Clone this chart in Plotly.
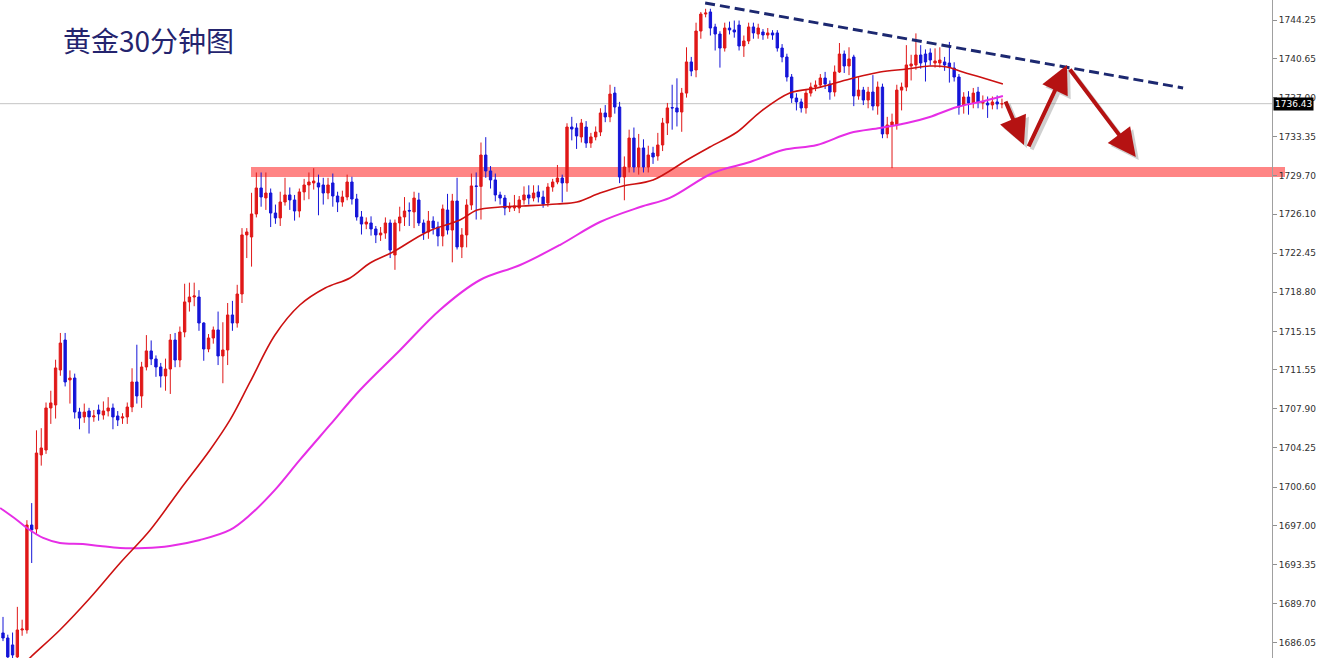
import plotly.graph_objects as go

# ---------------- data ----------------
opens = [
1686.96, 1686.49, 1685.84, 1684.72, 1687.24, 1687.24, 1697.05, 1696.68, 1703.60, 1704.06,
1707.99, 1708.27, 1711.54, 1714.34, 1710.61, 1710.79, 1707.61, 1707.15, 1707.71, 1707.15,
1707.80, 1707.33, 1707.71, 1707.99, 1707.24, 1707.05, 1707.15, 1708.08, 1710.42, 1709.11,
1711.82, 1713.32, 1712.57, 1711.82, 1710.98, 1711.63, 1714.34, 1712.47, 1715.09, 1717.90,
1718.36, 1718.36, 1715.93, 1713.50, 1714.53, 1715.28, 1712.85, 1713.41, 1716.68, 1715.93,
1718.64, 1724.16, 1723.97, 1726.12, 1728.55, 1727.62, 1728.08, 1726.21, 1725.75, 1727.24,
1727.90, 1727.43, 1726.40, 1728.18, 1728.83, 1729.02, 1729.02, 1728.83, 1728.08, 1729.02,
1727.80, 1727.24, 1727.71, 1729.11, 1727.52, 1725.84, 1725.18, 1725.28, 1724.72, 1724.16,
1724.34, 1725.28, 1722.29, 1725.28, 1725.84, 1726.45, 1726.31, 1727.43, 1725.28, 1724.44,
1725.46, 1724.90, 1724.06, 1726.49, 1724.62, 1727.33, 1723.04, 1724.16, 1726.96, 1728.74,
1728.70, 1731.63, 1730.14, 1729.30, 1727.90, 1727.61, 1726.68, 1726.68, 1726.68, 1727.43,
1727.90, 1727.61, 1728.18, 1727.71, 1727.15, 1728.64, 1729.11, 1729.48, 1729.02, 1734.25,
1734.16, 1733.32, 1734.25, 1732.75, 1733.32, 1733.78, 1735.56, 1735.19, 1737.42, 1736.12,
1729.58, 1730.51, 1733.22, 1730.51, 1732.29, 1730.51, 1731.82, 1731.54, 1732.57, 1734.62,
1736.07, 1736.03, 1735.65, 1737.42, 1740.33, 1739.58, 1743.22, 1744.81, 1745.00, 1743.60,
1742.94, 1741.63, 1743.50, 1743.32, 1743.78, 1741.82, 1742.29, 1743.60, 1742.94, 1743.13,
1742.85, 1743.04, 1743.04, 1741.63, 1740.79, 1738.92, 1736.96, 1736.59, 1736.03, 1737.42,
1737.98, 1738.17, 1738.83, 1738.27, 1737.52, 1739.39, 1741.07, 1739.95, 1740.79, 1737.15,
1737.70, 1736.77, 1737.52, 1736.21, 1737.98, 1733.60, 1734.44, 1734.44, 1737.70, 1737.98,
1739.95, 1740.05, 1740.98, 1741.07, 1741.17, 1740.23, 1740.23, 1740.33, 1740.23, 1739.76,
1738.92, 1736.31, 1737.05, 1736.49, 1737.52, 1736.49, 1736.49, 1736.31, 1736.59, 1736.40]

closes = [
1686.49, 1684.72, 1684.90, 1687.24, 1687.33, 1697.05, 1696.59, 1703.78, 1704.25, 1707.99,
1708.46, 1711.73, 1714.06, 1710.42, 1710.79, 1707.61, 1707.05, 1707.61, 1707.15, 1707.24,
1707.43, 1707.71, 1707.99, 1707.15, 1706.87, 1707.15, 1708.08, 1710.42, 1709.11, 1711.82,
1713.32, 1712.57, 1711.82, 1710.98, 1711.63, 1714.34, 1712.47, 1715.09, 1717.90, 1718.36,
1718.46, 1715.93, 1713.50, 1714.53, 1715.28, 1712.85, 1713.41, 1716.68, 1715.93, 1718.64,
1724.16, 1724.44, 1726.12, 1728.55, 1727.71, 1728.08, 1726.21, 1725.75, 1727.24, 1727.90,
1727.43, 1726.40, 1728.18, 1728.83, 1729.11, 1729.20, 1728.64, 1728.08, 1728.83, 1727.80,
1727.24, 1727.71, 1729.11, 1727.52, 1725.84, 1725.18, 1725.37, 1724.72, 1724.16, 1724.34,
1725.28, 1722.75, 1725.28, 1725.84, 1726.40, 1726.40, 1727.61, 1725.28, 1724.34, 1725.46,
1724.81, 1724.06, 1726.59, 1724.62, 1727.33, 1723.04, 1724.16, 1726.96, 1728.74, 1728.70,
1731.63, 1730.14, 1729.30, 1727.90, 1727.61, 1726.68, 1726.77, 1726.87, 1727.43, 1727.90,
1727.61, 1728.08, 1727.71, 1727.05, 1728.64, 1729.11, 1729.48, 1729.02, 1734.25, 1734.06,
1733.41, 1734.62, 1732.75, 1733.32, 1733.78, 1735.56, 1735.19, 1737.33, 1736.12, 1729.58,
1730.51, 1733.22, 1730.51, 1732.29, 1730.51, 1731.63, 1731.45, 1732.57, 1734.62, 1736.03,
1736.03, 1735.65, 1737.42, 1740.33, 1739.48, 1743.22, 1744.81, 1744.90, 1743.50, 1742.94,
1741.63, 1743.50, 1743.32, 1743.13, 1741.82, 1742.29, 1743.60, 1743.04, 1743.50, 1742.85,
1743.04, 1742.85, 1741.63, 1740.79, 1738.92, 1736.96, 1736.59, 1736.03, 1737.42, 1737.98,
1738.17, 1738.83, 1738.27, 1737.52, 1739.39, 1741.07, 1739.95, 1740.61, 1737.15, 1737.70,
1736.77, 1737.52, 1736.21, 1737.98, 1733.60, 1734.44, 1734.72, 1737.70, 1737.98, 1740.05,
1740.14, 1740.98, 1740.23, 1740.33, 1740.51, 1740.42, 1740.51, 1740.05, 1739.86, 1738.92,
1736.12, 1737.05, 1736.49, 1737.42, 1736.59, 1736.59, 1736.31, 1736.59, 1736.40, 1736.43]

highs = [
1688.46, 1686.8, 1687.0, 1689.4, 1688.2, 1697.5, 1699.1, 1705.9, 1706.1, 1708.5,
1709.6, 1712.5, 1715.0, 1715.0, 1711.5, 1711.2, 1708.0, 1708.4, 1708.0, 1707.8,
1708.3, 1708.6, 1709.0, 1708.4, 1707.7, 1707.5, 1708.5, 1711.7, 1713.9, 1712.3,
1714.8, 1714.3, 1712.9, 1712.2, 1712.6, 1714.9, 1715.0, 1715.6, 1719.6, 1719.7,
1719.7, 1719.0, 1716.0, 1714.9, 1715.6, 1717.0, 1716.0, 1717.8, 1718.0, 1719.5,
1724.8, 1724.8, 1728.1, 1730.0, 1730.0, 1730.0, 1728.5, 1727.0, 1728.2, 1729.5,
1728.6, 1727.9, 1728.5, 1729.4, 1730.0, 1730.4, 1729.8, 1729.5, 1729.5, 1729.9,
1728.2, 1728.3, 1729.8, 1729.6, 1728.0, 1726.4, 1725.8, 1725.9, 1725.0, 1724.9,
1725.8, 1725.6, 1725.6, 1726.8, 1727.7, 1727.2, 1728.2, 1728.1, 1725.6, 1726.4,
1725.9, 1725.4, 1727.0, 1728.0, 1728.0, 1729.5, 1724.8, 1727.5, 1729.9, 1730.0,
1732.8, 1733.3, 1730.6, 1729.9, 1728.2, 1727.9, 1727.2, 1727.9, 1727.8, 1728.7,
1728.8, 1728.8, 1728.8, 1728.3, 1729.0, 1729.4, 1730.7, 1729.8, 1734.6, 1735.2,
1734.6, 1735.0, 1734.8, 1733.7, 1734.3, 1736.0, 1736.3, 1738.2, 1738.0, 1736.6,
1731.5, 1734.0, 1734.2, 1733.6, 1733.1, 1732.5, 1732.4, 1733.7, 1735.1, 1736.5,
1738.2, 1738.8, 1737.9, 1741.7, 1740.8, 1744.0, 1745.0, 1745.3, 1745.3, 1743.9,
1743.2, 1744.0, 1744.1, 1744.2, 1744.2, 1742.8, 1744.0, 1744.0, 1743.9, 1743.4,
1743.5, 1743.3, 1743.3, 1742.0, 1741.1, 1739.2, 1737.4, 1736.9, 1737.8, 1738.4,
1738.6, 1739.2, 1739.4, 1738.6, 1740.0, 1742.1, 1741.4, 1741.7, 1741.0, 1738.9,
1738.0, 1738.0, 1739.1, 1738.5, 1738.3, 1735.2, 1735.5, 1738.2, 1738.4, 1741.9,
1741.0, 1743.0, 1741.9, 1741.5, 1741.6, 1741.6, 1741.7, 1740.8, 1742.2, 1740.3,
1739.2, 1737.5, 1737.6, 1737.9, 1738.0, 1737.2, 1737.1, 1737.1, 1737.2, 1736.9]

lows = [
1686.2, 1684.6, 1684.6, 1684.6, 1686.7, 1686.9, 1693.5, 1696.2, 1702.6, 1703.7,
1706.5, 1707.0, 1711.0, 1710.0, 1708.4, 1707.0, 1706.0, 1706.6, 1705.6, 1706.7,
1706.8, 1706.9, 1707.2, 1706.0, 1706.3, 1706.5, 1706.5, 1707.6, 1708.4, 1708.0,
1711.5, 1712.0, 1710.9, 1709.9, 1709.6, 1709.3, 1711.8, 1711.8, 1714.6, 1717.0,
1717.5, 1715.2, 1712.4, 1713.2, 1714.0, 1712.0, 1710.3, 1712.0, 1715.2, 1715.5,
1717.8, 1722.0, 1721.2, 1725.8, 1726.8, 1726.5, 1724.9, 1725.2, 1725.0, 1726.9,
1726.5, 1725.5, 1725.8, 1727.4, 1727.5, 1728.4, 1726.0, 1727.0, 1727.5, 1726.8,
1726.3, 1726.8, 1727.4, 1727.0, 1725.5, 1724.2, 1724.7, 1724.1, 1723.4, 1723.6,
1723.8, 1722.0, 1720.9, 1724.5, 1725.0, 1725.0, 1724.8, 1725.0, 1723.7, 1723.8,
1724.2, 1723.1, 1723.1, 1724.2, 1721.6, 1722.8, 1722.0, 1723.0, 1726.5, 1725.6,
1725.6, 1729.5, 1728.5, 1727.3, 1727.0, 1726.0, 1726.3, 1726.4, 1726.2, 1727.0,
1727.0, 1727.3, 1727.2, 1726.7, 1726.8, 1728.2, 1728.9, 1727.2, 1728.2, 1733.0,
1732.2, 1732.8, 1732.3, 1732.3, 1733.0, 1733.4, 1734.7, 1734.7, 1735.5, 1729.0,
1727.4, 1730.0, 1730.0, 1729.8, 1730.0, 1730.0, 1730.8, 1731.1, 1732.0, 1733.5,
1734.0, 1734.3, 1733.8, 1737.0, 1739.0, 1738.9, 1742.5, 1744.5, 1742.8, 1741.4,
1739.8, 1741.3, 1742.9, 1742.6, 1741.4, 1740.8, 1742.0, 1742.5, 1742.5, 1742.4,
1742.5, 1742.4, 1741.3, 1740.3, 1738.5, 1736.5, 1735.8, 1735.6, 1735.5, 1737.1,
1737.6, 1737.9, 1737.8, 1736.8, 1737.1, 1739.3, 1739.3, 1739.1, 1736.2, 1736.8,
1736.3, 1736.0, 1735.8, 1735.4, 1733.2, 1733.2, 1730.4, 1734.0, 1735.8, 1737.6,
1738.6, 1739.6, 1739.7, 1738.5, 1740.0, 1739.8, 1739.8, 1739.5, 1738.4, 1738.5,
1735.4, 1735.5, 1735.4, 1736.0, 1736.0, 1735.9, 1735.1, 1735.9, 1735.9, 1736.0]

bar_index = list(range(len(closes)))

# moving averages (bar index, price)
ma_red_x = [3.6, 5.6, 11.9, 18.2, 24.5, 30.8, 37.0, 43.3, 47.5, 51.7, 56.9, 62.1, 67.4, 72.6,
            76.8, 81.6, 88.7, 95.6, 99.2, 104.0, 108.8, 115.9, 120.1, 124.9, 129.7, 136.0,
            143.1, 147.9, 153.6, 158.4, 164.6, 170.3, 177.2, 183.5, 189.1, 193.9, 197.5,
            200.8, 204.4, 209.2]
ma_red_y = [1683.69, 1684.62, 1687.24, 1690.23, 1693.50, 1696.59, 1700.33, 1704.06, 1706.87,
            1710.42, 1714.81, 1717.61, 1719.20, 1720.14, 1721.54, 1722.57, 1724.44, 1725.56,
            1726.49, 1726.77, 1726.87, 1727.05, 1727.24, 1728.08, 1728.74, 1729.30, 1731.17,
            1732.38, 1733.78, 1735.65, 1737.43, 1737.90, 1738.74, 1739.39, 1739.67, 1739.95,
            1739.86, 1739.39, 1738.92, 1738.27]
ma_mag_x = [-0.6, 2.9, 5.0, 8.4, 11.9, 16.7, 20.3, 24.5, 29.7, 34.9, 41.2, 47.5, 51.7, 56.9,
            62.1, 68.4, 74.7, 83.1, 91.4, 99.8, 108.2, 116.5, 124.9, 133.3, 139.5, 148.5,
            156.3, 163.2, 170.3, 177.2, 183.5, 189.1, 193.9, 199.6, 204.4, 209.2]
ma_mag_y = [1698.64, 1697.52, 1696.77, 1695.84, 1695.37, 1695.28, 1695.09, 1694.90, 1694.90,
            1695.09, 1695.65, 1696.59, 1698.00, 1700.33, 1703.13, 1706.40, 1709.67, 1713.41,
            1717.15, 1719.95, 1721.35, 1723.22, 1725.37, 1726.77, 1727.62, 1729.95, 1730.98,
            1732.10, 1732.57, 1733.69, 1734.16, 1734.62, 1735.19, 1736.12, 1736.59, 1737.15]

# analyst drawings
trend_x = [146.9, 246.9]
trend_y = [1745.84, 1737.90]
support_low, support_high = 1729.58, 1730.52
last_price = 1736.43
arrow_tip_x = [213.6, 222.6, 237.0]
arrow_tip_y = [1732.57, 1740.05, 1731.45]
arrow_ax = [-19, -39, -67]
arrow_ay = [-45, 83, -89]

tick_vals = [1744.25, 1740.65, 1737.00, 1733.35, 1729.70, 1726.10, 1722.45, 1718.80, 1715.15,
             1711.55, 1707.90, 1704.25, 1700.60, 1697.00, 1693.35, 1689.70, 1686.05]
tick_text = [f"{v:.2f}" for v in tick_vals]
title_text = "黄金30分钟图"

# ---------------- figure ----------------
RED = "#e01818"
BLUE = "#1515d8"

fig = go.Figure()

fig.add_trace(go.Candlestick(
    x=bar_index, open=opens, high=highs, low=lows, close=closes,
    increasing=dict(line=dict(color=RED, width=1), fillcolor=RED),
    decreasing=dict(line=dict(color=BLUE, width=1), fillcolor=BLUE),
    whiskerwidth=0, showlegend=False, hoverinfo="skip"))

fig.add_trace(go.Scatter(x=ma_mag_x, y=ma_mag_y, mode="lines",
                         line=dict(color="#e62ee6", width=2, shape="spline"),
                         showlegend=False, hoverinfo="skip"))
fig.add_trace(go.Scatter(x=ma_red_x, y=ma_red_y, mode="lines",
                         line=dict(color="#cc1111", width=1.6, shape="spline"),
                         showlegend=False, hoverinfo="skip"))

fig.add_trace(go.Scatter(x=trend_x, y=trend_y, mode="lines",
                         line=dict(color="#1c2870", width=3, dash="10px,5px"),
                         showlegend=False, hoverinfo="skip"))

PLOT_W = 1272
shapes = [
    dict(type="line", xref="paper", yref="y", x0=0, x1=1, y0=last_price, y1=last_price,
         line=dict(color="#c4c4c4", width=1), layer="below"),
    dict(type="rect", xref="paper", yref="y", x0=251 / PLOT_W, x1=1285 / PLOT_W,
         y0=support_low, y1=support_high, fillcolor="#ff8585", line=dict(width=0),
         layer="below"),
]

annotations = [
    dict(xref="paper", yref="paper", x=61 / PLOT_W, y=1 - 40 / 658, xanchor="left",
         yanchor="middle", text=title_text, showarrow=False,
         font=dict(family="Noto Sans CJK SC", size=28, color="#24246e")),
    dict(xref="paper", yref="y", x=1, y=last_price, xanchor="left", yanchor="middle",
         xshift=1, text="1736.43", showarrow=False, bgcolor="#000000", borderpad=1,
         font=dict(family="DejaVu Sans", size=9, color="#ffffff")),
]
for tx, ty, ax, ay in zip(arrow_tip_x, arrow_tip_y, arrow_ax, arrow_ay):
    annotations.append(dict(x=tx, y=ty, ax=ax, ay=ay, xref="x", yref="y", text="",
                            showarrow=True, arrowhead=2, arrowsize=1.4, arrowwidth=4,
                            arrowcolor="rgba(120,120,120,0.35)", xshift=3, yshift=-3))
for tx, ty, ax, ay in zip(arrow_tip_x, arrow_tip_y, arrow_ax, arrow_ay):
    annotations.append(dict(x=tx, y=ty, ax=ax, ay=ay, xref="x", yref="y", text="",
                            showarrow=True, arrowhead=2, arrowsize=1.4, arrowwidth=4,
                            arrowcolor="#b51212"))

fig.update_layout(
    width=1321, height=658,
    margin=dict(l=0, r=1321 - PLOT_W, t=0, b=0),
    paper_bgcolor="white", plot_bgcolor="white",
    hovermode=False,
    shapes=shapes, annotations=annotations,
    xaxis=dict(range=[-0.63, 265.5], visible=False, rangeslider=dict(visible=False),
               fixedrange=True),
    yaxis=dict(range=[1684.62, 1746.12], side="right", tickvals=tick_vals,
               ticktext=tick_text, showgrid=False, zeroline=False, ticks="outside",
               ticklen=4, tickcolor="#909090", showline=True, linecolor="#a0a0a0",
               linewidth=1, tickfont=dict(family="DejaVu Sans", size=9, color="#303030"),
               fixedrange=True),
)

fig.write_html("out.html",
               config={"displayModeBar": False, "staticPlot": True},
               post_script="document.body.style.margin='0';document.body.style.overflow='hidden';")
